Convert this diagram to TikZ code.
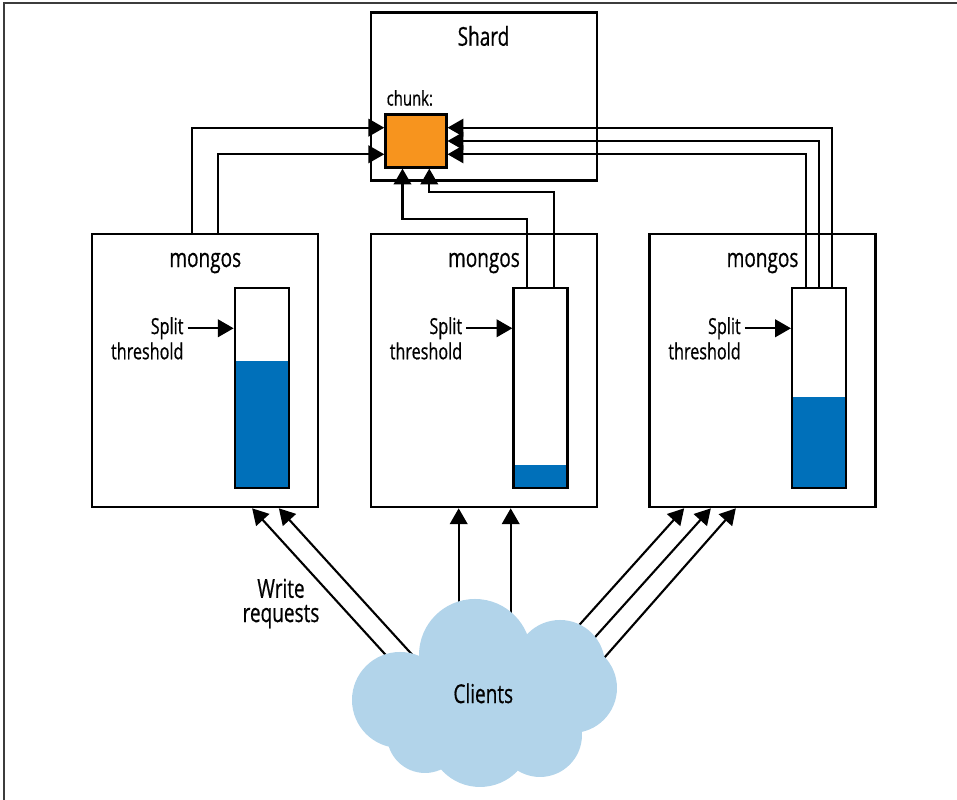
\documentclass[tikz,border=0pt]{standalone}
\usepackage{fontspec}
\setmainfont{Open Sans}[FakeStretch=0.73, FakeBold=0.6]
\usepackage{tikz}
\usetikzlibrary{positioning, arrows.meta, calc}

\definecolor{chunkorange}{RGB}{247,148,30}
\definecolor{fillblue}{RGB}{0,112,186}
\definecolor{cloudblue}{RGB}{178,212,234}
\definecolor{framegray}{RGB}{60,60,60}

\tikzset{
    mongosbox/.style={draw, line width=0.65pt, minimum width=2.26cm, minimum height=2.73cm, inner sep=0pt},
    levelbar/.style={draw, line width=0.65pt, minimum width=0.54cm, minimum height=2.0cm, inner sep=0pt,
        path picture={\fill[fillblue] (path picture bounding box.south west) rectangle ([yshift=#1]path picture bounding box.south east);}},
    arr/.style={-{Triangle[length=4.5pt,width=5pt]}, line width=0.6pt},
    bigtext/.style={font=\fontsize{7.4}{6.9}\selectfont},
    smalltext/.style={font=\fontsize{6.3}{6.5}\selectfont, inner sep=1pt},
    chunktext/.style={font=\fontsize{5.8}{6}\selectfont}
}

\begin{document}
\begin{tikzpicture}
        \useasboundingbox (0,0) rectangle (9.57,8);
        \draw[framegray, line width=0.45pt] (0.04,0) -- (0.04,7.97) -- (9.57,7.97);

        % shard
        \node[draw, line width=0.65pt, minimum width=2.26cm, minimum height=1.68cm] (shard) at (4.84,7.035) {};
        \node[bigtext] (shardlbl) at (4.835,7.64) {Shard};
        \node[draw, line width=0.65pt, fill=chunkorange, minimum width=0.61cm, minimum height=0.53cm, inner sep=0pt] (chunk) at (4.159,6.59) {};
        \node[chunktext, anchor=west, inner sep=0pt] (chunklbl) at (3.86,7.02) {chunk:};

        % mongos boxes
        \node[mongosbox] (m1) at (2.053,4.293) {};
        \node[mongosbox] (m2) at (4.84,4.293) {};
        \node[mongosbox] (m3) at (7.626,4.293) {};

        \node[bigtext] (ml1) at ($(m1.north)+(0,-0.3)$) {mongos};
        \node[bigtext] (ml2) at ($(m2.north)+(0,-0.3)$) {mongos};
        \node[bigtext] (ml3) at ($(m3.north)+(0,-0.3)$) {mongos};

        \node[levelbar=1.27cm] (b1) at ($(m1)+(0.565,-0.173)$) {};
        \node[levelbar=0.226cm] (b2) at ($(m2)+(0.565,-0.173)$) {};
        \node[levelbar=0.91cm] (b3) at ($(m3)+(0.565,-0.173)$) {};

        % split threshold
        \node[smalltext, anchor=east] (sp1) at ($(m1.west)+(0.965,0.424)$) {Split};
        \node[smalltext, anchor=east] (th1) at ($(m1.west)+(0.965,0.197)$) {threshold};
        \node[smalltext, anchor=east] (sp2) at ($(m2.west)+(0.965,0.424)$) {Split};
        \node[smalltext, anchor=east] (th2) at ($(m2.west)+(0.965,0.197)$) {threshold};
        \node[smalltext, anchor=east] (sp3) at ($(m3.west)+(0.965,0.424)$) {Split};
        \node[smalltext, anchor=east] (th3) at ($(m3.west)+(0.965,0.197)$) {threshold};

        \draw[arr] (sp1.east) -- (sp1.east -| b1.west);
        \draw[arr] (sp2.east) -- (sp2.east -| b2.west);
        \draw[arr] (sp3.east) -- (sp3.east -| b3.west);

        % to the chunk
        \draw[arr] ($(m1.north west)+(1.01,0)$) |- ($(chunk.west)+(0,0.133)$);
        \draw[arr] ($(m1.north west)+(1.27,0)$) |- ($(chunk.west)+(0,-0.133)$);
        \draw[arr] ($(b2.north)+(-0.135,0)$) -- ++(0,0.677) -| ($(chunk.south)+(-0.134,0)$);
        \draw[arr] ($(b2.north)+(0.133,0)$) -- ++(0,0.944) -| ($(chunk.south)+(0.134,0)$);
        \draw[arr] ($(b3.north)+(0.13,0)$) |- ($(chunk.east)+(0,0.133)$);
        \draw[arr] (b3.north) |- (chunk.east);
        \draw[arr] ($(b3.north)+(-0.13,0)$) |- ($(chunk.east)+(0,-0.133)$);

        % write requests
        \coordinate (c1) at (4.068,1.219);
        \coordinate (c2) at (4.17,1.40);
        \coordinate (c3) at (4.587,1.60);
        \coordinate (c4) at (5.107,1.60);
        \coordinate (c5) at (5.55,1.48);
        \coordinate (c6) at (5.70,1.35);
        \coordinate (c7) at (5.90,1.26);

        \draw[arr] (c1) -- ($(m1.south west)+(1.61,0)$);
        \draw[arr] (c2) -- ($(m1.south west)+(1.877,0)$);
        \draw[arr] (c3) -- (c3 |- m2.south);
        \draw[arr] (c4) -- (c4 |- m2.south);
        \draw[arr] (c5) -- ($(m3.south west)+(0.357,0)$);
        \draw[arr] (c6) -- ($(m3.south west)+(0.624,0)$);
        \draw[arr] (c7) -- ($(m3.south west)+(0.874,0)$);

        \node[bigtext, align=center] (wr) at (2.81,1.965) {Write\\requests};

        % clients
        \fill[cloudblue] (4.00,1.00) circle (0.48) (4.75,1.45) circle (0.56)
            (5.60,1.35) circle (0.45) (5.72,1.12) circle (0.45)
            (4.80,0.65) circle (0.52) (4.25,0.65) circle (0.38)
            (5.40,0.65) circle (0.42) (4.85,1.10) circle (0.60);
        \node[bigtext] (clients) at (4.833,1.067) {Clients};

    \end{tikzpicture}
\end{document}
